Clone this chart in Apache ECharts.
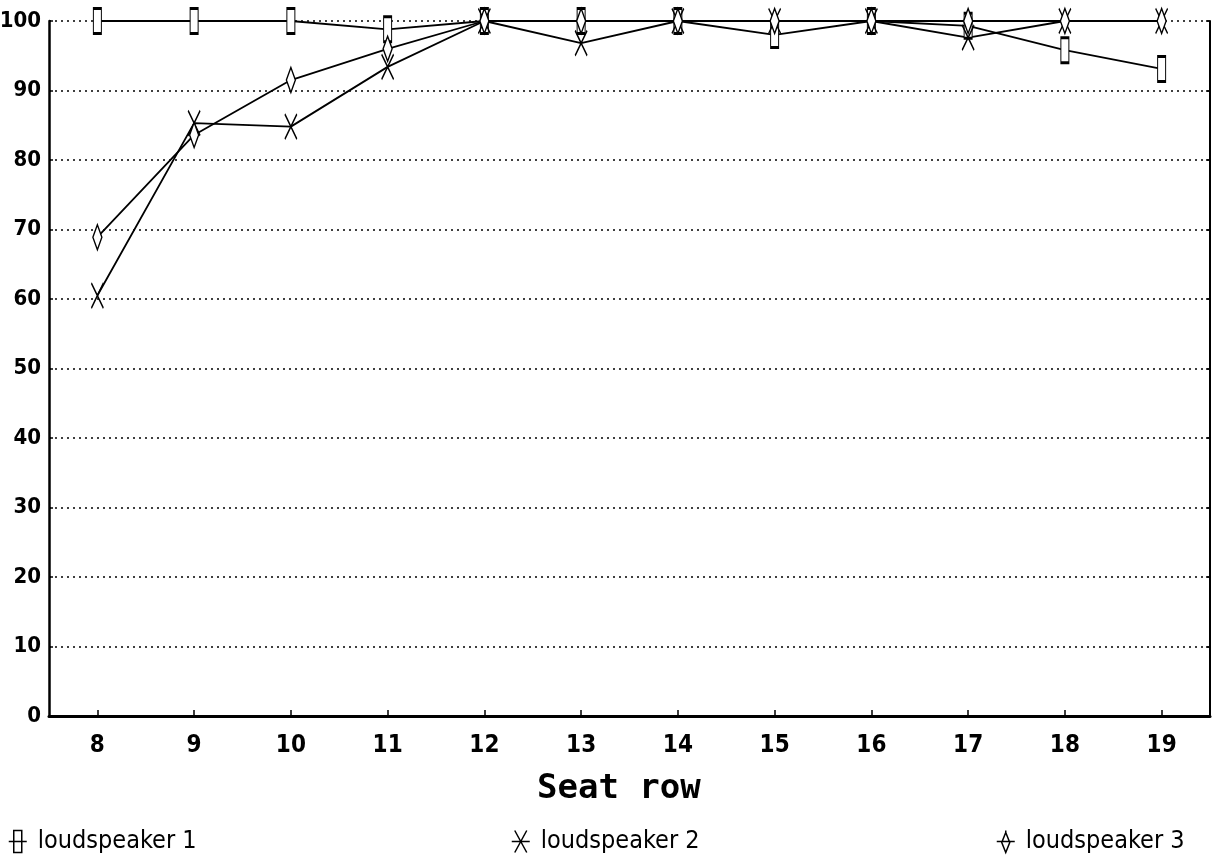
<!DOCTYPE html>
<html>
<head>
<meta charset="utf-8">
<script src="https://cdn.jsdelivr.net/npm/echarts@6/dist/echarts.min.js"></script>
<style>
  html, body { margin: 0; padding: 0; background: #fff; }
  #chart { width: 1218px; height: 859px; }
</style>
</head>
<body>
<div id="chart"></div>
<script>
// Seat rows along the x axis
const seatRows = ['8', '9', '10', '11', '12', '13', '14', '15', '16', '17', '18', '19'];
// Y axis tick range
const yTicks = [0, 10, 20, 30, 40, 50, 60, 70, 80, 90, 100];
// Scores per seat row for each loudspeaker
const loudspeaker1 = [100, 100, 100, 98.8, 100, 100, 100, 98.0, 100, 99.3, 95.8, 93.1];
const loudspeaker2 = [60.5, 85.3, 84.8, 93.4, 100, 96.8, 100, 100, 100, 97.6, 100, 100];
const loudspeaker3 = [68.9, 83.6, 91.5, 96.0, 100, 100, 100, 100, 100, 100, 100, 100];
const seriesNames = ['loudspeaker 1', 'loudspeaker 2', 'loudspeaker 3'];

const labelFont = '"DejaVu Sans Condensed", "Liberation Sans Narrow", "Roboto Condensed", sans-serif';
const symX = 'path://M0,0 L12,25 M12,0 L0,25';

const chart = echarts.init(document.getElementById('chart'), null, { renderer: 'canvas' });

function lineSeries(name, data, symbol, size) {
  return {
    name: name,
    type: 'line',
    data: data,
    symbol: symbol,
    symbolSize: size,
    showAllSymbol: true,
    animation: false,
    lineStyle: { color: '#000', width: 1.8 },
    itemStyle: { color: '#fff', borderColor: '#000', borderWidth: 1.7 }
  };
}

function legendAt(left, name, icon) {
  return {
    left: left,
    top: 824,
    data: [{ name: name, icon: icon, itemStyle: { color: '#fff', borderColor: '#000', borderWidth: 1.5 } }],
    itemWidth: 18,
    itemHeight: 22,
    itemGap: 0,
    textStyle: { fontFamily: labelFont, fontSize: 25, color: '#000', padding: [0, 0, 0, 6] },
    selectedMode: false
  };
}

chart.setOption({
  backgroundColor: '#fff',
  animation: false,
  grid: { left: 49, right: 8, top: 21, bottom: 143, containLabel: false, outerBoundsMode: 'none' },
  xAxis: {
    type: 'category',
    data: seatRows,
    boundaryGap: true,
    axisLine: { show: true, lineStyle: { color: '#000', width: 3 } },
    axisTick: { show: true, inside: true, alignWithLabel: true, length: 6, lineStyle: { color: '#000', width: 1.5 } },
    axisLabel: { color: '#000', fontFamily: labelFont, fontWeight: 'bold', fontSize: 24, margin: 18 },
    splitLine: { show: false }
  },
  yAxis: [
    {
      type: 'value',
      min: yTicks[0],
      max: yTicks[yTicks.length - 1],
      interval: 10,
      axisLine: { show: true, lineStyle: { color: '#000', width: 2.5 } },
      axisTick: { show: true, inside: true, length: 4, lineStyle: { color: '#000', width: 1.5 } },
      axisLabel: { color: '#000', fontFamily: labelFont, fontWeight: 'bold', fontSize: 22, margin: 8 },
      splitLine: { show: true, lineStyle: { color: '#000', width: 1.5, type: [2, 4] } }
    },
    {
      type: 'value',
      position: 'right',
      min: yTicks[0],
      max: yTicks[yTicks.length - 1],
      interval: 10,
      axisLine: { show: true, lineStyle: { color: '#000', width: 2 } },
      axisTick: { show: true, inside: true, length: 4, lineStyle: { color: '#000', width: 1.5 } },
      axisLabel: { show: false },
      splitLine: { show: false }
    }
  ],
  legend: [
    legendAt(3, seriesNames[0], 'path://M0,11 L18,11 M5,0 L13,0 L13,22 L5,22 Z'),
    legendAt(506, seriesNames[1], 'path://M0,11 L18,11 M3,0 L15,22 M15,0 L3,22'),
    legendAt(991, seriesNames[2], 'path://M0,11 L18,11 M9,0 L9,2 M9,2 L13,12 L9,22 L5,12 Z')
  ],
  graphic: [
    {
      type: 'text',
      left: 537,
      top: 772,
      style: { text: 'Seat row', fontFamily: 'DejaVu Sans Mono', fontWeight: 'bold', fontSize: 34, fill: '#000' }
    }
  ],
  series: [
    lineSeries(seriesNames[0], loudspeaker1, 'rect', [8, 25]),
    lineSeries(seriesNames[1], loudspeaker2, symX, [12, 25]),
    lineSeries(seriesNames[2], loudspeaker3, 'diamond', [9, 25])
  ]
});
</script>
</body>
</html>
